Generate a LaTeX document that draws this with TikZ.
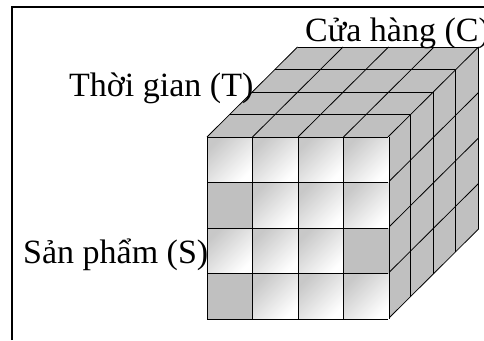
\documentclass[tikz,border=0pt]{standalone}
\usepackage{fontspec}
\setmainfont{Liberation Serif}
\definecolor{cubegray}{RGB}{192,192,192}
\definecolor{lightgray2}{RGB}{200,200,200}
\begin{document}
\begin{tikzpicture}[x=1pt,y=-1pt,
  edge/.style={draw=black,line width=0.8pt},
  frameline/.style={draw=black,line width=2pt},
  gradcell/.style={top color=lightgray2,bottom color=white,shading angle=45},
  solidcell/.style={fill=cubegray},
  lbl/.style={anchor=base west,inner sep=0pt,font=\fontsize{34}{40}\selectfont}]
\useasboundingbox (0,0) rectangle (484,340);
% frame
\draw[frameline] (12,340) -- (12,7) -- (484,7);
% top face
\fill[cubegray] (207,137) -- (388,137) -- (478.5,47) -- (297.5,47) -- cycle;
\foreach \i in {0,...,4} {
  \draw[edge] (207+45.5*\i,137) -- ++(90.5,-90);
  \draw[edge] (207+22.625*\i,137-22.5*\i) -- ++(181,0);
}
% right face
\fill[cubegray] (388,137) -- (478.5,47) -- (478.5,228) -- (388,319) -- cycle;
\foreach \i in {0,...,4} {
  \draw[edge] (388+22.625*\i,137-22.5*\i) -- ++(0,182);
  \draw[edge] (388,137+45.5*\i) -- ++(90.5,-90);
}
% front face
\foreach \r in {0,...,3} {
  \foreach \c in {0,...,3} {
    \shade[gradcell] (207+45.5*\c,137+45.5*\r) rectangle ++(45.5,45.5);
  }
}
\foreach \r/\c in {1/0,2/3,3/0} {
  \fill[solidcell] (207+45.5*\c,137+45.5*\r) rectangle ++(45.5,45.5);
}
\foreach \i in {0,...,4} {
  \draw[edge] (207+45.5*\i,137) -- ++(0,182);
  \draw[edge] (207,137+45.5*\i) -- ++(181,0);
}
% labels
\node[lbl] (cuahang) at (305,41.7) {Cửa hàng (C)};
\node[lbl] (thoigian) at (69,96.7) {Thời gian (T)};
\node[lbl] (sanpham) at (23,263) {Sản phẩm (S)};
\end{tikzpicture}
\end{document}
